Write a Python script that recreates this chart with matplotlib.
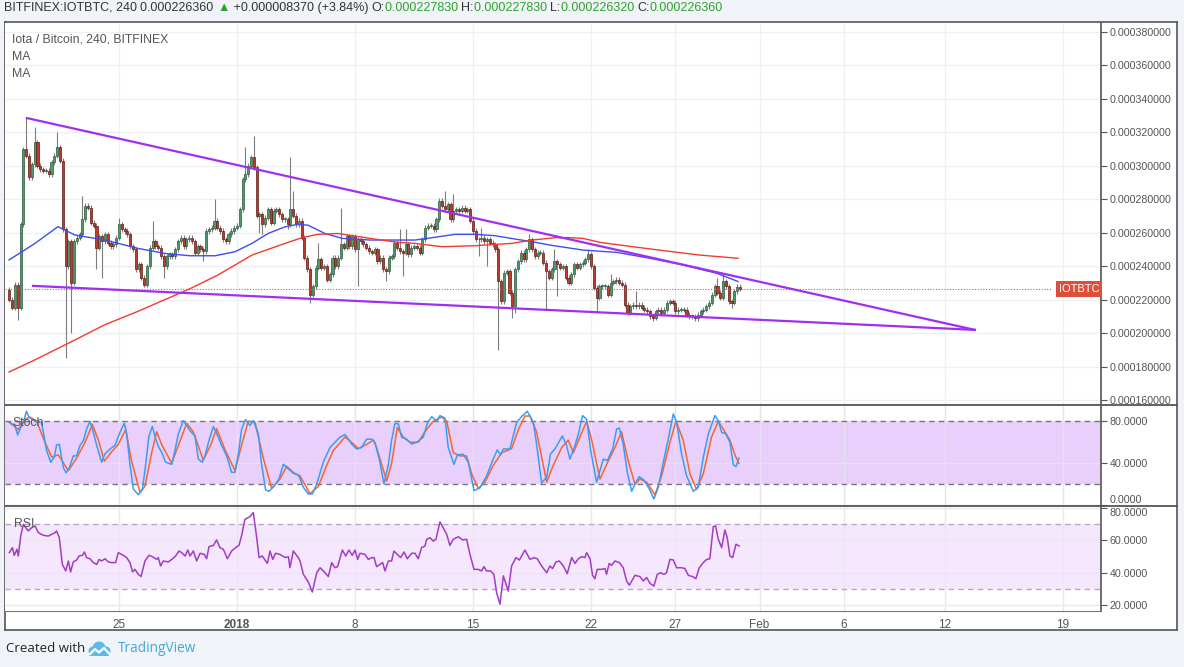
import numpy as np
import matplotlib
matplotlib.use('Agg')
import matplotlib.pyplot as plt
from matplotlib.patches import Rectangle, Circle
from matplotlib.lines import Line2D
import matplotlib.transforms as mtransforms

# ---------------- dados (preços em 1e-6 BTC) ----------------
# tempo em dias a partir de 1 jan 2018 00:00, candles de 4h
inicio_candles = -13.5
passo_candle = 1 / 6
abertura_inicial = 226

precos_fech = [
    220, 215, 229, 215, 265, 310, 306, 293, 301, 314,
    300, 298, 297, 297, 295, 302, 306, 311, 303, 262,
    240, 255, 230, 255, 257, 259, 268, 276, 275, 266,
    264, 251, 258, 255, 259, 254, 252, 253, 257, 265,
    262, 261, 259, 252, 250, 238, 241, 233, 229, 240,
    251, 255, 252, 251, 246, 240, 246, 247, 246, 250,
    255, 257, 252, 256, 257,
    255, 248, 252, 250, 249,
    261, 262, 263, 267, 263, 261, 256, 255, 259, 261,
    263, 264, 274, 292, 295, 300, 305, 299, 270, 271,
    265, 269, 274, 266, 273, 274, 271, 268, 268, 265,
    274, 270, 265, 267, 257, 245, 238, 223, 228, 239,
    244, 239, 240, 232, 235, 245, 240, 245, 253, 251,
    258, 252, 258, 250, 256, 255, 253, 251,
    249, 248, 250, 243, 245, 238, 237, 245, 246, 254,
    251, 249, 248, 253, 247, 251, 252, 251, 248, 256,
    263, 264, 264, 262, 268, 279, 276, 274, 277, 268,
    273, 274, 273, 275, 273, 274, 267, 261, 256, 256,
    257, 255, 256, 254, 253, 250, 231, 219, 236, 237,
    224, 216, 238, 243, 248, 244, 250, 256, 250, 246,
    248, 248, 242, 237, 233, 238, 243,
    241, 239, 240, 233, 230, 235, 241, 239, 241, 242,
    244, 247, 240, 227, 221, 228, 228, 228, 223, 230,
    231, 232, 230, 229, 217, 212, 216, 217, 216, 217,
    215, 214, 213, 210, 209, 213, 214, 212, 214, 218,
    219, 218, 213, 214, 214, 214, 211, 210, 210, 209,
    211, 213, 214, 216, 218, 223, 228, 224, 221, 231,
    228, 219, 218, 225, 227.8, 226.4,
]

# pavios longos (máximas e mínimas que se destacam)
maximas_destaque = {6: 329, 9: 323, 17: 320, 26: 282, 39: 269, 51: 267,
                    73: 280, 84: 311, 87: 318, 100: 305, 101: 285, 110: 254,
                    118: 275, 139: 262, 141: 262, 155: 285, 158: 283, 168: 263,
                    185: 259, 194: 250, 206: 250, 214: 235, 223: 225, 252: 233,
                    254: 235}
minimas_destaque = {3: 208, 20: 185, 22: 200, 31: 238, 33: 233, 55: 233,
                    69: 243, 89: 260, 90: 259, 99: 262, 107: 218, 124: 228,
                    134: 231, 140: 234, 167: 246, 170: 240, 174: 190, 179: 209,
                    180: 212, 191: 214, 195: 222, 209: 212, 230: 208, 244: 207,
                    257: 215}

ultimo_preco = 226.36

# médias móveis
ma_azul_t = [-13.52, -11.98, -10.62, -9.61, -7.83, -5.87, -4.27, -2.79, -1.30, -0.12,
             0.89, 1.84, 2.85, 3.56, 4.21, 5.22, 6.23, 7.89, 10.56, 11.57, 12.93,
             14.12, 15.30, 16.49, 17.50, 18.56, 20.52, 22.54, 24.50, 26.45, 28.47, 29.72]
ma_azul_v = [243.7, 253.6, 263.6, 258.6, 255.6, 250.6, 247.6, 246.2, 246.2, 248.6,
             253.6, 259.5, 263.5, 264.9, 264.5, 259.5, 256.6, 255.6, 255.6, 257, 259,
             259, 258.2, 256.2, 254.6, 252.6, 249.6, 248.2, 244.7, 240.7, 235.7, 230.8]
ma_verm_t = [-13.52, -11.98, -9.79, -7.83, -5.87, -3.86, -2.79, -1.13, 0.89, 2.85,
             3.86, 4.80, 5.99, 7.89, 9.55, 10.56, 12.16, 14.12, 16.31, 17.50, 18.86,
             19.75, 20.52, 21.53, 23.49, 25.50, 27.46, 29.72]
ma_verm_v = [176.7, 184, 195, 205, 213, 221.8, 226.5, 234.7, 246.6, 253.6,
             257, 259, 259.5, 256.6, 254.2, 253.6, 251.6, 252.2, 253.6, 255.6, 257,
             257, 256.6, 254.2, 251.6, 249, 246.6, 244.7]

# linhas de tendência (triângulo)
tend_sup_t = [-12.46, 43.77]
tend_sup_v = [328.5, 201.9]
tend_inf_t = [-12.10, 43.77]
tend_inf_v = [228.2, 201.9]

# estocástico %K e %D
stoch_k_t = [-13.50, -13.17, -13.01, -12.83, -12.67, -12.49, -12.34, -12.18, -11.84, -11.59,
             -11.29, -11.05, -10.83, -10.70, -10.54, -10.30, -10.14, -9.96, -9.71, -9.51,
             -9.31, -9.11, -8.92, -8.72, -8.52, -8.32, -8.03, -7.83, -7.53, -7.24,
             -6.94, -6.68, -6.54, -6.35, -6.15, -5.85, -5.61, -5.46, -5.22, -5.02,
             -4.82, -4.63, -4.47, -4.23, -3.87, -3.68, -3.48, -3.18, -2.98, -2.79,
             -2.49, -2.29, -2.06, -1.90, -1.66, -1.40, -1.21, -0.91, -0.61, -0.32,
             -0.12, 0.08, 0.28, 0.51, 0.77, 0.97, 1.27, 1.46, 1.70, 1.90,
             2.22, 2.49, 2.75, 3.05, 3.34, 3.64, 3.94, 4.23, 4.47, 4.73,
             5.12, 5.52, 5.81, 6.11, 6.41, 6.80, 7.10, 7.39, 7.69, 7.99,
             8.18, 8.44, 8.72, 8.98, 9.17, 9.37, 9.57, 9.77, 10.06, 10.36,
             10.66, 11.05, 11.29, 11.55, 11.84, 12.04, 12.34, 12.53, 12.87, 13.07,
             13.42, 13.72, 14.06, 14.41, 14.81, 15.16, 15.44, 15.64, 15.80, 16.19,
             16.59, 16.94, 17.22, 17.58, 17.77, 18.07, 18.37, 18.60, 18.86, 19.30,
             19.55, 19.75, 20.05, 20.25, 20.50, 20.74, 20.98, 21.33, 21.53, 21.73,
             21.97, 22.28, 22.52, 22.68, 22.91, 23.15, 23.41, 23.61, 23.86, 24.14,
             24.46, 24.73, 24.99, 25.29, 25.58, 25.88, 26.08, 26.37, 26.67, 27.07,
             27.36, 27.66, 27.96, 28.35, 28.55, 28.75, 29.00, 29.24, 29.44, 29.60, 29.77]
stoch_k_v = [79, 76, 67, 74, 79, 89.5, 84, 82, 79, 79,
             52, 41, 46, 57.5, 58, 36, 31, 35, 47, 47,
             57, 61.6, 72.7, 80, 69.5, 57, 41, 49, 53.6, 57,
             69.5, 78, 68, 39, 15.5, 10, 15.5, 33, 66, 75,
             63, 55, 50.5, 41, 39, 52, 68, 80.6, 76, 71,
             66, 44, 41, 47, 61.6, 75, 68.6, 57, 47, 31.4,
             31.4, 49, 72.7, 81.6, 76, 80.6, 68, 39, 14.6, 13.3,
             18.7, 25, 39, 34.6, 30.5, 29, 17, 10.8, 10.8, 20.3,
             41, 55, 60, 64.8, 67.3, 58.4, 53.6, 55, 63, 63,
             60, 44, 20.3, 39, 61.6, 78, 77.5, 64.8, 63, 58.4,
             60, 64.8, 78, 84.4, 80, 85.4, 83, 55, 39, 48,
             48.6, 41, 14, 16.5, 28, 42.5, 52.7, 48, 53.6, 53.6,
             79, 85.4, 89.5, 79, 58.4, 21.3, 26.7, 49, 53.6, 66,
             57, 44, 57, 68, 85.4, 82, 52, 22, 33, 44,
             42.5, 53.6, 72.7, 73.6, 58.4, 31.4, 13.3, 20.3, 27.3, 24,
             15.5, 6, 17, 41, 63, 87, 79, 49, 28, 13.3,
             17, 45.7, 68, 85.4, 80.6, 69.5, 68, 60, 38.7, 36.8, 45]
stoch_d_t = [-13.50, -12.97, -12.57, -12.28, -11.88, -11.39, -10.99, -10.60, -10.00, -9.51,
             -9.01, -8.58, -8.22, -7.87, -7.43, -7.04, -6.60, -6.25, -5.75, -5.46,
             -5.06, -4.76, -4.47, -3.87, -3.48, -2.98, -2.59, -2.00, -1.54, -1.21,
             -0.71, -0.12, 0.32, 0.67, 1.07, 1.56, 2.06, 2.55, 2.95, 3.44,
             3.74, 4.33, 4.83, 5.32, 5.71, 6.41, 6.80, 7.20, 7.69, 8.09,
             8.28, 8.88, 9.17, 9.51, 9.86, 10.26, 10.75, 11.15, 11.64, 12.14,
             12.44, 12.83, 13.23, 13.62, 13.92, 14.31, 14.71, 15.20, 15.70, 16.29,
             16.69, 17.08, 17.38, 17.77, 18.37, 18.76, 19.26, 19.65, 19.95, 20.34,
             20.74, 21.04, 21.53, 22.02, 22.42, 22.81, 23.21, 23.61, 23.90, 24.30,
             24.79, 25.19, 25.68, 26.04, 26.47, 26.87, 27.26, 27.66, 28.15, 28.55,
             28.94, 29.24, 29.54, 29.77]
stoch_d_v = [79, 72, 82, 84, 80, 60, 46, 48, 33, 45,
             60, 77, 62, 42, 51, 58, 72, 42, 12, 18,
             50, 70, 58, 40, 57, 78, 70, 43, 58, 73,
             53, 33, 60, 80, 79, 45, 16, 25, 37, 30,
             28, 11, 18, 38, 52, 65, 60, 54, 58, 62,
             55, 23, 40, 74, 65, 60, 60, 70, 80, 84,
             80, 50, 47, 47, 30, 16, 22, 38, 50, 54,
             72, 85, 85, 70, 22, 38, 55, 62, 50, 65,
             80, 62, 25, 42, 55, 70, 42, 20, 25, 22,
             10, 28, 60, 80, 62, 30, 15, 30, 65, 80,
             70, 62, 48, 40]

# RSI
rsi_t = [-13.50, -13.32, -13.21, -13.05, -12.97, -12.83, -12.67, -12.57, -12.38, -12.18,
         -11.98, -11.78, -11.49, -11.19, -10.99, -10.79, -10.70, -10.54, -10.36, -10.16,
         -10.00, -9.87, -9.71, -9.51, -9.37, -9.17, -9.05, -8.92, -8.72, -8.52,
         -8.32, -8.18, -8.03, -7.83, -7.63, -7.43, -7.20, -7.04, -6.74, -6.54,
         -6.35, -6.19, -6.05, -5.85, -5.69, -5.46, -5.22, -5.02, -4.76, -4.67,
         -4.53, -4.37, -4.07, -3.87, -3.64, -3.44, -3.28, -3.08, -2.92, -2.79,
         -2.59, -2.39, -2.19, -1.94, -1.80, -1.66, -1.40, -1.21, -1.01, -0.81,
         -0.57, -0.32, -0.08, 0.12, 0.28, 0.47, 0.77, 0.97, 1.17, 1.31,
         1.50, 1.80, 1.96, 2.12, 2.29, 2.55, 2.85, 3.05, 3.14, 3.34,
         3.64, 3.74, 3.94, 4.23, 4.47, 4.73, 4.93, 5.22, 5.42, 5.62,
         5.81, 5.97, 6.25, 6.45, 6.64, 6.84, 7.00, 7.16, 7.30, 7.59,
         7.79, 7.99, 8.13, 8.28, 8.48, 8.64, 8.78, 8.98, 9.17, 9.31,
         9.51, 9.71, 9.91, 10.10, 10.36, 10.56, 10.75, 10.95, 11.15, 11.25,
         11.45, 11.64, 11.80, 12.04, 12.28, 12.44, 12.63, 12.83, 13.13, 13.38,
         13.62, 13.82, 14.06, 14.31, 14.51, 14.65, 14.81, 15.04, 15.24, 15.40,
         15.60, 15.80, 16.09, 16.29, 16.55, 16.75, 17.08, 17.38, 17.62, 17.81,
         18.07, 18.37, 18.56, 18.72, 18.92, 19.12, 19.36, 19.59, 19.85, 20.05,
         20.25, 20.44, 20.64, 20.74, 20.94, 21.09, 21.23, 21.37, 21.63, 21.83,
         21.92, 22.08, 22.22, 22.42, 22.68, 22.91, 23.11, 23.27, 23.61, 23.90,
         24.10, 24.30, 24.50, 24.73, 24.93, 25.13, 25.33, 25.48, 25.68, 25.88,
         26.08, 26.37, 26.57, 26.77, 27.03, 27.22, 27.42, 27.66, 27.86, 28.05,
         28.25, 28.39, 28.55, 28.75, 28.94, 29.08, 29.24, 29.40, 29.60, 29.79]
rsi_v = [52.4, 55.5, 50.7, 54.5, 50.3, 62.7, 70, 68.5, 65.9, 67.9,
         69, 64.8, 63.2, 62.7, 63.8, 64.8, 65.9, 61.7, 45.1, 41,
         47.2, 40.4, 46.6, 47.8, 50.3, 50.7, 52.8, 49.3, 48.6, 46.2,
         45.1, 48.2, 47.2, 48.6, 46.6, 46.2, 46.2, 52.4, 50.7, 49.3,
         46.2, 40.4, 42, 38.9, 37.5, 47.2, 50.7, 49.9, 48.2, 49.3,
         44.1, 47.2, 46.6, 48.2, 50.3, 53.4, 52.4, 50.3, 54, 50.3,
         53.4, 47.2, 52, 51.3, 48.6, 56.1, 56.9, 60.3, 55.5, 54.5,
         48.6, 53.4, 55.5, 56.9, 63.2, 73.1, 74.8, 77.3, 61.7, 49.3,
         50.3, 45.7, 53.4, 48.2, 52, 51.3, 49.3, 49.9, 43, 53.4,
         49.3, 47.2, 38.9, 34.1, 27.9, 39.9, 43, 39.9, 37.5, 46.2,
         43, 43.7, 54, 50.3, 54, 50.7, 54, 48.2, 52, 51.3,
         48.2, 49.3, 49.3, 43.7, 45.1, 46.2, 41, 47.2, 47.2, 53.4,
         51.3, 49.3, 52.8, 48.6, 52, 52, 48.6, 55.5, 56.5, 60.7,
         61.7, 59.6, 60.7, 71.5, 66.9, 63.8, 56.9, 60.7, 62.3, 60.3,
         60.7, 51.3, 42, 42, 41, 43.7, 41, 41, 38.9, 27.5,
         20.3, 37.9, 28.5, 44.1, 49.3, 47.8, 54, 48.2, 49.3, 48.6,
         44.1, 39.9, 44.1, 42.5, 46.6, 47.2, 44.1, 39.3, 49.3, 45.7,
         48.6, 49.9, 49.3, 52.4, 48.6, 38.3, 36.2, 42, 42, 42.5,
         38.9, 45.7, 44.5, 47.2, 46.2, 43, 34.8, 32.1, 38.3, 37.5,
         34.8, 36.9, 33.3, 31.6, 38.9, 39.9, 38.9, 39.9, 48.2, 47.8,
         43, 43, 42.5, 38.3, 37.5, 36.2, 43, 46.2, 48.2, 48.6,
         68.5, 69, 60.7, 55.5, 66.5, 61.7, 50.3, 49.3, 57.6, 56.5]

# eixo de datas
datas_pos = [-7, 0, 7, 14, 21, 26, 31, 36, 42, 49]
datas_rot = ['25', '2018', '8', '15', '22', '27', 'Feb', '6', '12', '19']
precos_ticks = [160, 180, 200, 220, 240, 260, 280, 300, 320, 340, 360, 380]

# cores
COR_FUNDO = '#f0f3f7'
COR_TEXTO = '#555555'
COR_GRADE = '#eef0f3'
COR_BORDA = '#555555'
FONTE = ['Liberation Sans', 'DejaVu Sans']


def desenhar_candles(ax):
    # monta abertura, máxima e mínima a partir dos fechamentos
    c = np.array(precos_fech, dtype=float)
    o = np.concatenate([[abertura_inicial], c[:-1]])
    t = inicio_candles + np.arange(len(c)) * passo_candle
    hi = np.maximum(o, c) + 1.5
    lo = np.minimum(o, c) - 1.5
    for i, v in maximas_destaque.items():
        hi[i] = v
    for i, v in minimas_destaque.items():
        lo[i] = v
    ax.vlines(t, lo * 1e-6, hi * 1e-6, color='#7d7d7d', lw=0.8, zorder=2)
    corpo = np.where(np.abs(c - o) < 0.5, 0.5, c - o)
    sobe = c >= o
    ax.bar(t[sobe], corpo[sobe] * 1e-6, bottom=o[sobe] * 1e-6, width=0.125,
           color='#4f9a6c', edgecolor='#2d5a3e', lw=0.5, zorder=2.5)
    ax.bar(t[~sobe], corpo[~sobe] * 1e-6, bottom=o[~sobe] * 1e-6, width=0.125,
           color='#c0392b', edgecolor='#5e1c14', lw=0.5, zorder=2.5)


def preparar_eixo(ax, xlim):
    ax.set_facecolor('white')
    ax.set_xlim(*xlim)
    for lado in ['top', 'left', 'bottom']:
        ax.spines[lado].set_visible(False)
    ax.spines['right'].set_color(COR_BORDA)
    ax.spines['right'].set_linewidth(1.2)
    ax.yaxis.tick_right()
    ax.tick_params(axis='y', direction='out', length=4, width=0.8, color=COR_BORDA,
                   labelsize=7.7, labelcolor=COR_TEXTO, pad=2)
    ax.set_xticks(datas_pos)
    ax.grid(True, color=COR_GRADE, lw=1, zorder=0)
    ax.set_axisbelow(True)


def texto_em_sequencia(fig, x, y, partes, tamanho):
    # escreve pedaços de texto coloridos um depois do outro
    r = fig.canvas.get_renderer()
    largura = fig.get_figwidth() * fig.dpi
    for s, cor in partes:
        t = fig.text(x, y, s, color=cor, fontsize=tamanho, family=FONTE, va='center')
        x += t.get_window_extent(r).width / largura


def principal():
    W, H = 1184, 667
    fig = plt.figure(figsize=(W / 100, H / 100), dpi=100, facecolor=COR_FUNDO)

    def caixa(x0, y0, x1, y1):
        return [x0 / W, 1 - y1 / H, (x1 - x0) / W, (y1 - y0) / H]

    # moldura externa branca (atrás dos painéis)
    moldura = fig.add_axes(caixa(5, 22, 1177, 630), zorder=-5)
    moldura.set_xticks([])
    moldura.set_yticks([])
    moldura.set_facecolor('white')
    for s in moldura.spines.values():
        s.set_color(COR_BORDA)
        s.set_linewidth(1.2)

    xlim = (-13.76, 51.25)
    ax = fig.add_axes(caixa(5, 22.7, 1101, 405))
    ax_st = fig.add_axes(caixa(5, 405, 1101, 506))
    ax_rsi = fig.add_axes(caixa(5, 506, 1101, 611))

    # ---------- painel de preço ----------
    preparar_eixo(ax, xlim)
    ax.set_ylim(157.0e-6, 385.5e-6)
    ax.set_yticks(np.array(precos_ticks) * 1e-6)
    ax.set_yticklabels(['{:.9f}'.format(v * 1e-6) for v in precos_ticks], family=FONTE)
    ax.set_xticklabels([])
    ax.tick_params(axis='x', length=0)
    desenhar_candles(ax)
    ax.plot(ma_azul_t, np.array(ma_azul_v) * 1e-6, color='#3f4cf2', lw=1, zorder=3)
    ax.plot(ma_verm_t, np.array(ma_verm_v) * 1e-6, color='#f23a32', lw=1, zorder=3)
    ax.plot(tend_sup_t, np.array(tend_sup_v) * 1e-6, color='#a12ef0', lw=1.6, zorder=4)
    ax.plot(tend_inf_t, np.array(tend_inf_v) * 1e-6, color='#a12ef0', lw=1.6, zorder=4)
    ax.axhline(ultimo_preco * 1e-6, xmin=0, xmax=(1051 - 5) / 1096, color='#e0533f',
               lw=0.8, ls=(0, (1, 1.5)), zorder=3)
    trans = mtransforms.blended_transform_factory(ax.transAxes, ax.transData)
    ax.text(0.9985, ultimo_preco * 1e-6, 'IOTBTC', transform=trans, ha='right', va='center',
            color='white', fontsize=8, family=FONTE, zorder=6,
            bbox=dict(boxstyle='square,pad=0.25', facecolor='#dd4f3b', edgecolor='none'))
    ax.text(7 / 1096, 1 - 17 / 382, 'Iota / Bitcoin, 240, BITFINEX', transform=ax.transAxes,
            color=COR_TEXTO, fontsize=8.8, family=FONTE, va='center')
    ax.text(7 / 1096, 1 - 34.5 / 382, 'MA', transform=ax.transAxes,
            color=COR_TEXTO, fontsize=8.8, family=FONTE, va='center')
    ax.text(7 / 1096, 1 - 51.5 / 382, 'MA', transform=ax.transAxes,
            color=COR_TEXTO, fontsize=8.8, family=FONTE, va='center')

    # ---------- estocástico ----------
    preparar_eixo(ax_st, xlim)
    ax_st.set_ylim(-0.7, 95.5)
    ax_st.set_yticks([0, 40, 80])
    ax_st.set_yticklabels(['0.0000', '40.0000', '80.0000'], family=FONTE)
    ax_st.get_yticklabels()[0].set_va('bottom')
    ax_st.set_xticklabels([])
    ax_st.tick_params(axis='x', length=0)
    ax_st.axhspan(20, 80, color='#e9cffc', zorder=0.5, lw=0)
    for v in (20, 80):
        ax_st.axhline(v, color='#7c7280', lw=1, ls=(0, (4, 3)), zorder=1.5)
    ax_st.grid(True, color='#e6e3ea', lw=1, zorder=1)
    ax_st.plot(stoch_d_t, stoch_d_v, color='#f5652f', lw=1.1, zorder=3)
    ax_st.plot(stoch_k_t, stoch_k_v, color='#3a9cf4', lw=1.1, zorder=3)
    ax_st.text(7 / 1096, 1 - 18 / 101, 'Stoch', transform=ax_st.transAxes,
               color=COR_TEXTO, fontsize=8.8, family=FONTE, va='center', zorder=5)

    # ---------- RSI ----------
    preparar_eixo(ax_rsi, xlim)
    ax_rsi.set_ylim(16.1, 81.4)
    ax_rsi.set_yticks([20, 40, 60, 80])
    ax_rsi.set_yticklabels(['20.0000', '40.0000', '60.0000', '80.0000'], family=FONTE)
    ax_rsi.get_yticklabels()[3].set_va('top')
    ax_rsi.axhspan(30, 70, color='#f5e7fd', zorder=0.5, lw=0)
    for v in (30, 70):
        ax_rsi.axhline(v, color='#b7a7c2', lw=1, ls=(0, (4, 3)), zorder=1.5)
    ax_rsi.grid(True, color='#ebe6ef', lw=1, zorder=1)
    ax_rsi.plot(rsi_t, rsi_v, color='#a23cc4', lw=1.1, zorder=3)
    ax_rsi.text(9 / 1096, 1 - 18 / 105, 'RSI', transform=ax_rsi.transAxes,
                color=COR_TEXTO, fontsize=8.8, family=FONTE, va='center', zorder=5)
    ax_rsi.spines['bottom'].set_visible(True)
    ax_rsi.spines['bottom'].set_color('#777777')
    ax_rsi.set_xticklabels(datas_rot, family=FONTE)
    ax_rsi.tick_params(axis='x', length=0, labelsize=8.5, labelcolor=COR_TEXTO, pad=6)
    ax_rsi.get_xticklabels()[1].set_fontweight('bold')

    # separadores entre painéis
    for yy in (405, 506):
        fig.lines.append(Line2D([5 / W, 1177 / W], [1 - yy / H] * 2, transform=fig.transFigure,
                                color=COR_BORDA, lw=1.3, zorder=10))

    # ---------- cabeçalho ----------
    verde = '#2aa52a'
    escuro = '#333333'
    texto_em_sequencia(fig, 4 / W, 1 - 8 / H, [
        ('BITFINEX:IOTBTC, 240 ', escuro), ('0.000226360 ', escuro), ('▲', verde),
        (' +0.000008370 (+3.84%) ', escuro),
        ('O:', escuro), ('0.000227830 ', verde), ('H:', escuro), ('0.000227830 ', verde),
        ('L:', escuro), ('0.000226320 ', verde), ('C:', escuro), ('0.000226360', verde),
    ], 9.0)

    # ---------- rodapé ----------
    fig.text(6 / W, 1 - 649 / H, 'Created with', color='#222222', fontsize=9.5,
             family=['Open Sans', 'DejaVu Sans'], va='center')
    ax_logo = fig.add_axes(caixa(86, 638, 112, 660))
    ax_logo.set_xlim(0, 26)
    ax_logo.set_ylim(0, 22)
    ax_logo.axis('off')
    cor_logo = '#5bbbe8'
    for cx, cy, r in [(7, 9, 4.5), (13, 12, 6.5), (20, 9, 4.5)]:
        ax_logo.add_patch(Circle((cx, cy), r, color=cor_logo, lw=0))
    ax_logo.add_patch(Rectangle((3, 4.5), 20, 5, color=cor_logo, lw=0))
    ax_logo.plot([4, 9, 13, 18, 23], [6, 11, 7.5, 12, 6.5], color='white', lw=1.6)
    fig.text(118 / W, 1 - 649 / H, 'TradingView', color='#3fa8de', fontsize=9.8,
             family=['Open Sans', 'DejaVu Sans'], va='center')

    fig.savefig('out.png', dpi=100, facecolor=COR_FUNDO)
    plt.close(fig)


if __name__ == "__main__":
    principal()
